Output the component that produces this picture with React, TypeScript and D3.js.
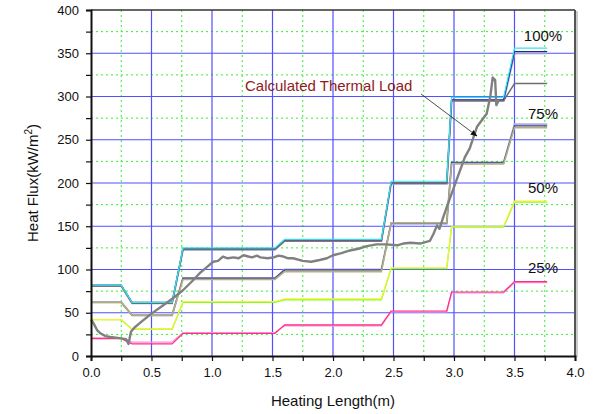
import React, { useEffect, useRef } from "react";
import * as d3 from "d3";

// heating length break points shared by the design step lines (m)
const stepX = [0, 0.25, 0.34, 0.67, 0.76, 1.52, 1.6, 2.4, 2.48, 2.94, 2.98, 3.41, 3.5, 3.77];

// heat flux levels, one value for each break point (kW/m2)
const load100Cyan = [82, 82, 62, 62, 125, 125, 135, 135, 202, 202, 299, 299, 356, 356];
const load100Blue = [82, 82, 62, 62, 124, 124, 134, 134, 200, 200, 296, 296, 352, 352];
const load100Lilac = [81, 81, 61, 61, 123, 123, 133, 133, 199, 199, 295, 295, 350, 350];
const load100Grey = [81, 81, 61, 61, 123, 123, 133, 133, 200, 200, 295, 295, 315, 315];
const load75Navy = [62, 62, 47, 47, 90, 90, 99.5, 99.5, 154, 154, 224, 224, 266, 266];
const load75Khaki = [62, 62, 47, 47, 88.5, 88.5, 97.5, 97.5, 154, 154, 222, 222, 264, 264];
const load75Lilac = [62, 62, 47, 47, 90, 90, 100, 100, 153, 153, 223, 223, 268, 268];
const load50Green = [42, 42, 31, 31, 62, 62, 65, 65, 101, 101, 149, 149, 178, 178];
const load50Yellow = [42, 42, 31, 31, 63, 63, 66, 66, 102, 102, 150, 150, 179, 179];
const load25Pink = [21, 21, 16, 16, 27, 27, 35, 35, 51, 51, 73, 73, 85, 85];
const load25Red = [20, 20, 14, 14, 26, 26, 36, 36, 52, 52, 74, 74, 86, 86];

// calculated thermal load curve
const calcX = [0, 0.02, 0.05, 0.08, 0.12, 0.16, 0.22, 0.29, 0.31, 0.33, 0.36, 0.42, 0.5, 0.58, 0.68, 0.76, 0.84, 0.9, 0.96, 1.01, 1.05, 1.09, 1.13, 1.18, 1.22, 1.26, 1.3, 1.33, 1.37, 1.4, 1.46, 1.51, 1.55, 1.59, 1.63, 1.67, 1.75, 1.82, 1.89, 1.95, 2.0, 2.07, 2.14, 2.21, 2.28, 2.36, 2.44, 2.53, 2.58, 2.64, 2.72, 2.8, 2.83, 2.86, 2.88, 2.91, 2.94, 3.02, 3.09, 3.13, 3.19, 3.27, 3.3, 3.32, 3.34, 3.35, 3.37];
const calcY = [42, 38, 30, 26, 23, 22, 21, 19.5, 14, 28, 33, 40, 49, 57, 67, 76, 87, 96, 103, 109, 110, 115, 113, 114, 113, 116.5, 115, 114, 116, 114, 113, 114, 116, 115, 113, 113, 110, 109, 111, 113, 116.5, 119, 122, 124, 127, 129, 129, 128, 130, 131, 130, 133, 141, 151, 147, 160, 172, 203, 230, 240, 265, 280, 300, 322, 319, 290, 296];

const stepSeries = [
    { name: "100% lilac", values: load100Lilac, color: "#9c9cd8", width: 2 },
    { name: "100% blue", values: load100Blue, color: "#23238f", width: 1.2 },
    { name: "100% grey", values: load100Grey, color: "#6e6e6e", width: 1.4 },
    { name: "100% cyan", values: load100Cyan, color: "#33e6f0", width: 1.2 },
    { name: "75% lilac", values: load75Lilac, color: "#aeb0e6", width: 2 },
    { name: "75% navy", values: load75Navy, color: "#3c3c8c", width: 1.2 },
    { name: "75% khaki", values: load75Khaki, color: "#b3b07c", width: 1.6 },
    { name: "50% green", values: load50Green, color: "#88ff22", width: 1.4 },
    { name: "50% yellow", values: load50Yellow, color: "#f2f233", width: 1.2 },
    { name: "25% pink", values: load25Pink, color: "#ff8be6", width: 1.4 },
    { name: "25% red", values: load25Red, color: "#ff2f7a", width: 1.2 },
];

const loadLabels = ["100%", "75%", "50%", "25%"];
const loadLabelY = [364, 274, 188, 96];

const App = () => {
    const svgRef = useRef<SVGSVGElement>(null);

    useEffect(() => {
        const width = 595;
        const height = 414;
        const left = 91;
        const right = 575;
        const top = 10;
        const bottom = 356;
        const font = "'Liberation Sans', Arial, sans-serif";

        const x = d3.scaleLinear().domain([0, 4]).range([left, right]);
        const y = d3.scaleLinear().domain([0, 400]).range([bottom, top]);

        const svg = d3
            .select(svgRef.current)
            .attr("width", width)
            .attr("height", height)
            .attr("viewBox", [0, 0, width, height].join(" "));
        svg.selectAll("*").remove();

        svg.append("rect").attr("width", width).attr("height", height).attr("fill", "#fff");

        const defs = svg.append("defs");
        defs.append("marker")
            .attr("id", "arrow")
            .attr("viewBox", "0 0 10 10")
            .attr("refX", 9)
            .attr("refY", 5)
            .attr("markerWidth", 7)
            .attr("markerHeight", 7)
            .attr("markerUnits", "userSpaceOnUse")
            .attr("orient", "auto")
            .append("path")
            .attr("d", "M0,1 L10,5 L0,9 Z")
            .attr("fill", "#111");

        // grid: dotted green minor, solid blue major
        const minorX = d3.range(0.25, 4, 0.5);
        const majorX = d3.range(0.5, 4, 0.5);
        const minorY = d3.range(25, 400, 50);
        const majorY = d3.range(50, 400, 50);

        const grid = svg.append("g");
        grid.selectAll(".mx").data(minorX).join("line")
            .attr("class", "mx")
            .attr("x1", (d) => x(d)).attr("x2", (d) => x(d))
            .attr("y1", top).attr("y2", bottom)
            .attr("stroke", "#33ee33").attr("stroke-dasharray", "2,3");
        grid.selectAll(".my").data(minorY).join("line")
            .attr("class", "my")
            .attr("x1", left).attr("x2", right)
            .attr("y1", (d) => y(d)).attr("y2", (d) => y(d))
            .attr("stroke", "#33ee33").attr("stroke-dasharray", "2,3");
        grid.selectAll(".gx").data(majorX).join("line")
            .attr("class", "gx")
            .attr("x1", (d) => x(d)).attr("x2", (d) => x(d))
            .attr("y1", top).attr("y2", bottom)
            .attr("stroke", "#5050ff").attr("stroke-width", 1.2);
        grid.selectAll(".gy").data(majorY).join("line")
            .attr("class", "gy")
            .attr("x1", left).attr("x2", right)
            .attr("y1", (d) => y(d)).attr("y2", (d) => y(d))
            .attr("stroke", "#5050ff").attr("stroke-width", 1.2);

        // step lines
        const stepLine = d3
            .line<number>()
            .x((_, i) => x(stepX[i]))
            .y((d) => y(d));

        svg.append("g")
            .selectAll("path")
            .data(stepSeries)
            .join("path")
            .attr("d", (s) => stepLine(s.values))
            .attr("fill", "none")
            .attr("stroke", (s) => s.color)
            .attr("stroke-width", (s) => s.width);

        // calculated thermal load
        const calcLine = d3
            .line<number>()
            .x((d) => x(d))
            .y((_, i) => y(calcY[i]));

        svg.append("path")
            .attr("d", calcLine(calcX))
            .attr("fill", "none")
            .attr("stroke", "#808080")
            .attr("stroke-width", 2.4)
            .attr("stroke-linejoin", "round");

        // frame
        svg.append("line").attr("x1", left).attr("x2", right).attr("y1", top).attr("y2", top)
            .attr("stroke", "#333").attr("stroke-width", 1.6);
        svg.append("line").attr("x1", right).attr("x2", right).attr("y1", top).attr("y2", bottom)
            .attr("stroke", "#555").attr("stroke-width", 2);
        svg.append("line").attr("x1", right + 2).attr("x2", right + 2).attr("y1", top + 1).attr("y2", bottom + 1)
            .attr("stroke", "#bbb").attr("stroke-width", 1.5);

        // axes
        const xAxis = svg.append("g").attr("transform", `translate(0,${bottom})`);
        xAxis.call(
            d3.axisBottom(x).tickValues(d3.range(0, 4.01, 0.25)).tickSize(5)
                .tickFormat((d) => (Math.round(+d * 100) % 50 === 0 ? d3.format(".1f")(+d) : ""))
        );
        xAxis.select(".domain").attr("stroke", "#111").attr("stroke-width", 2);
        xAxis.selectAll(".tick line").attr("stroke", "#111").attr("stroke-width", 1.2);
        xAxis.selectAll("text").attr("font-family", font).attr("font-size", 13).attr("fill", "#111").attr("dy", "1.0em");

        const yAxis = svg.append("g").attr("transform", `translate(${left},0)`);
        yAxis.call(
            d3.axisLeft(y).tickValues(d3.range(0, 401, 25)).tickSize(5)
                .tickFormat((d) => (+d % 50 === 0 ? String(d) : ""))
        );
        yAxis.select(".domain").attr("stroke", "#111").attr("stroke-width", 2);
        yAxis.selectAll(".tick line").attr("stroke", "#111").attr("stroke-width", 1.2);
        yAxis.selectAll("text").attr("font-family", font).attr("font-size", 13).attr("fill", "#111").attr("x", -12);

        // axis titles
        svg.append("text")
            .attr("x", (left + right) / 2)
            .attr("y", 406)
            .attr("text-anchor", "middle")
            .attr("font-family", font)
            .attr("font-size", 15)
            .attr("fill", "#111")
            .text("Heating Length(m)");

        const yTitle = svg.append("text")
            .attr("transform", `translate(38,${(top + bottom) / 2}) rotate(-90)`)
            .attr("text-anchor", "middle")
            .attr("font-family", font)
            .attr("font-size", 15)
            .attr("fill", "#111");
        yTitle.append("tspan").text("Heat Flux(kW/m");
        yTitle.append("tspan").attr("font-size", 10).attr("dy", -6).text("2");
        yTitle.append("tspan").attr("dy", 6).text(")");

        // load labels
        svg.append("g")
            .selectAll("text")
            .data(loadLabels)
            .join("text")
            .attr("x", 543)
            .attr("y", (_, i) => y(loadLabelY[i]))
            .attr("text-anchor", "middle")
            .attr("font-family", font)
            .attr("font-size", 15)
            .attr("fill", "#111")
            .text((d) => d);

        // annotation
        svg.append("text")
            .attr("x", 245)
            .attr("y", 91)
            .attr("font-family", font)
            .attr("font-size", 15)
            .attr("fill", "#8e1b1b")
            .text("Calculated Thermal Load");

        svg.append("line")
            .attr("x1", 421)
            .attr("y1", 94)
            .attr("x2", 477)
            .attr("y2", 136)
            .attr("stroke", "#222")
            .attr("stroke-width", 0.8)
            .attr("marker-end", "url(#arrow)");
    }, []);

    return (
        <svg
            ref={svgRef}
            style={{ position: "absolute", left: 0, top: 0, display: "block" }}
        ></svg>
    );
};

export default App;
